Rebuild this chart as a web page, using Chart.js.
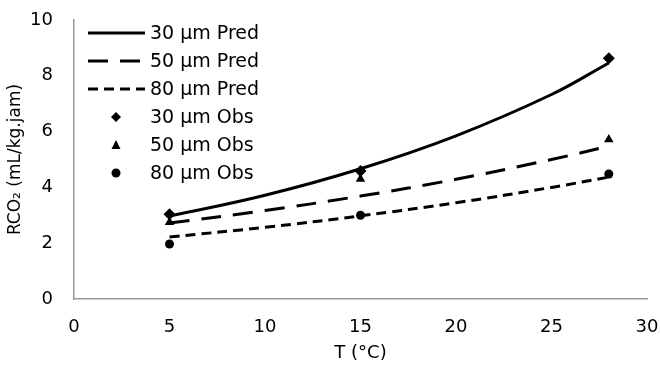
<!DOCTYPE html>
<html>
<head>
<meta charset="utf-8">
<script src="https://cdn.jsdelivr.net/npm/chart.js@4"></script>
<style>
  html, body { margin: 0; padding: 0; background: #fff; }
  #wrap { width: 660px; height: 368px; }
</style>
</head>
<body>
<div id="wrap"><canvas id="myChart" width="660" height="368"></canvas></div>
<script>
// predicted curves
const predT = [5, 10, 15, 20, 25, 28];
const pred30 = [2.97, 3.72, 4.67, 5.85, 7.33, 8.46];
const pred50 = [2.72, 3.17, 3.69, 4.29, 5.00, 5.48];
const pred80 = [2.22, 2.57, 2.98, 3.45, 4.00, 4.37];

// observed points
const obsT = [5, 15, 28];
const obs30 = [3.04, 4.59, 8.63];
const obs50 = [2.75, 4.30, 5.72];
const obs80 = [1.97, 3.00, 4.48];

const xTicks = [0, 5, 10, 15, 20, 25, 30];
const yTicks = [0, 2, 4, 6, 8, 10];

const FONT = 'Tahoma, "DejaVu Sans", sans-serif';

const toXY = (xs, ys) => xs.map((x, i) => ({ x: x, y: ys[i] }));

const predLine = (label, xs, ys, dash) => ({
    label: label,
    data: toXY(xs, ys),
    showLine: true,
    borderColor: '#000',
    backgroundColor: '#000',
    borderWidth: 3,
    borderDash: dash,
    tension: 0.4,
    pointRadius: 0
});

const obsPoints = (label, xs, ys, style, r) => ({
    label: label,
    data: toXY(xs, ys),
    showLine: false,
    pointStyle: style,
    pointRadius: r,
    borderWidth: 0,
    borderColor: '#000',
    backgroundColor: '#000'
});

// legend drawn by hand inside the plot
const legendPlugin = {
    id: 'innerLegend',
    afterDraw(chart) {
        const ctx = chart.ctx;
        const rows = [33, 61, 89, 117, 145, 173];
        ctx.save();
        ctx.font = '19px ' + FONT;
        ctx.fillStyle = '#000';
        ctx.textBaseline = 'middle';
        chart.data.datasets.forEach((ds, i) => {
            const y = rows[i];
            if (ds.showLine) {
                ctx.strokeStyle = '#000';
                ctx.lineWidth = 3;
                ctx.setLineDash(ds.borderDash || []);
                ctx.beginPath();
                ctx.moveTo(88, y);
                ctx.lineTo(145, y);
                ctx.stroke();
                ctx.setLineDash([]);
            } else {
                const cx = 116;
                ctx.beginPath();
                if (ds.pointStyle === 'rectRot') {
                    ctx.moveTo(cx, y - 5); ctx.lineTo(cx + 5, y);
                    ctx.lineTo(cx, y + 5); ctx.lineTo(cx - 5, y);
                } else if (ds.pointStyle === 'triangle') {
                    ctx.moveTo(cx, y - 5); ctx.lineTo(cx + 4.5, y + 4);
                    ctx.lineTo(cx - 4.5, y + 4);
                } else {
                    ctx.arc(cx, y, 4.5, 0, Math.PI * 2);
                }
                ctx.closePath();
                ctx.fill();
            }
            ctx.fillText(ds.label, 150, y + 1);
        });
        ctx.restore();
    }
};

let ctx = document.getElementById('myChart').getContext('2d');
let myChart = new Chart(ctx, {
    type: 'scatter',
    data: {
        datasets: [
            predLine('30 µm Pred', predT, pred30, []),
            predLine('50 µm Pred', predT, pred50, [20, 12]),
            predLine('80 µm Pred', predT, pred80, [10, 6]),
            obsPoints('30 µm Obs', obsT, obs30, 'rectRot', 6),
            obsPoints('50 µm Obs', obsT, obs50, 'triangle', 5.5),
            obsPoints('80 µm Obs', obsT, obs80, 'circle', 4.5)
        ]
    },
    plugins: [legendPlugin],
    options: {
        responsive: false,
        animation: false,
        events: [],
        layout: { padding: { top: 20, right: 13, left: 0, bottom: 0 } },
        plugins: {
            legend: { display: false },
            tooltip: { enabled: false }
        },
        scales: {
            x: {
                type: 'linear',
                min: 0, max: 30,
                afterBuildTicks: s => { s.ticks = xTicks.map(v => ({ value: v })); },
                afterFit: s => { s.height = 69; s.paddingLeft = 0; s.paddingRight = 0; },
                grid: { display: false, drawTicks: false },
                border: { color: '#999', width: 1.5 },
                ticks: { color: '#000', font: { family: FONT, size: 18 }, padding: 18, maxRotation: 0 },
                title: {
                    display: true, text: 'T (°C)', color: '#000',
                    font: { family: FONT, size: 18 }, padding: { top: 0 }
                }
            },
            y: {
                min: 0, max: 10,
                afterBuildTicks: s => { s.ticks = yTicks.map(v => ({ value: v })); },
                afterFit: s => { s.width = 74; s.paddingTop = 0; s.paddingBottom = 0; },
                grid: { display: false, drawTicks: false },
                border: { color: '#999', width: 1.5 },
                ticks: { color: '#000', font: { family: FONT, size: 18 }, padding: 21 },
                title: {
                    display: true, text: 'RCO₂ (mL/kg.jam)', color: '#000',
                    font: { family: FONT, size: 17 }, padding: { top: 5, bottom: 0 }
                }
            }
        }
    }
});
</script>
</body>
</html>
